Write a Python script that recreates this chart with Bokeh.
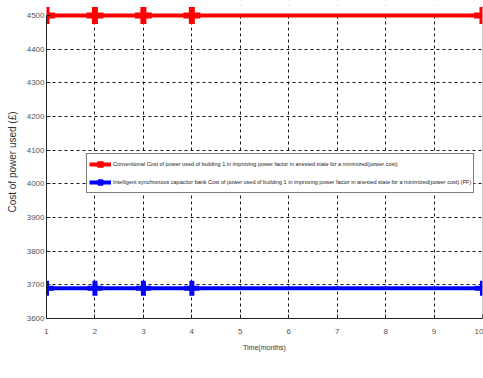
from bokeh.plotting import figure
from bokeh.models import FixedTicker, Range1d, BoxAnnotation, Span, Legend, LegendItem
from bokeh.embed import file_html
from bokeh.resources import INLINE

months = [1, 2, 3, 4, 10]
conventional_cost = [4500, 4500, 4500, 4500, 4500]
intelligent_cost = [3690, 3690, 3690, 3690, 3690]
x_ticks = [1, 2, 3, 4, 5, 6, 7, 8, 9, 10]
y_ticks = [3600, 3700, 3800, 3900, 4000, 4100, 4200, 4300, 4400, 4500]
label_conv = "Conventional Cost of power used of building 1 in improving power factor in anested state for a minimized(power cost)"
label_intel = "Intelligent synchronous capacitor bank Cost of power used of building 1 in improving power factor in anested state for a minimized(power cost) (PF)"

FONT = "Liberation Sans"

p = figure(width=483, height=370, output_backend="svg", toolbar_location=None,
           x_range=Range1d(1, 10), y_range=Range1d(3600, 4530),
           min_border_left=46, min_border_right=1, min_border_top=5, min_border_bottom=52)
p.outline_line_color = None
p.background_fill_color = "white"

for g in (p.xgrid, p.ygrid):
    g.grid_line_color = "black"
    g.grid_line_dash = "3 3"
    g.grid_line_width = 1
    g.grid_line_alpha = 0.9
p.xgrid.ticker = FixedTicker(ticks=x_ticks)
p.ygrid.ticker = FixedTicker(ticks=y_ticks)

cover = BoxAnnotation(bottom=4500, fill_color="white", fill_alpha=1, line_color=None, level="underlay")
p.add_layout(cover)
edge = Span(location=10, dimension="height", line_color="#999999", line_width=1)
p.add_layout(edge)

p.xaxis.ticker = FixedTicker(ticks=x_ticks)
p.yaxis.ticker = FixedTicker(ticks=y_ticks)
p.yaxis.bounds = (3600, 4500)
for ax in (p.xaxis[0], p.yaxis[0]):
    ax.axis_line_color = "#222222"
    ax.major_tick_line_color = "#222222"
    ax.major_tick_in = 4
    ax.major_tick_out = 0
    ax.minor_tick_line_color = None
    ax.major_label_text_font = FONT
    ax.major_label_text_font_size = "8px"
    ax.major_label_text_color = "#555555"
    ax.axis_label_text_font = FONT
    ax.axis_label_text_font_style = "normal"
    ax.axis_label_text_color = "#333333"
p.xaxis.axis_label = "Time(months)"
p.yaxis.axis_label = "Cost of power used (£)"
p.xaxis.axis_label_text_font_size = "7px"
p.yaxis.axis_label_text_font_size = "10px"
p.xaxis.major_label_standoff = 10
p.yaxis.major_label_standoff = 2
p.xaxis.axis_label_standoff = 7
p.yaxis.axis_label_standoff = 6

r1 = p.line(months, conventional_cost, line_color="red", line_width=4)
m1 = p.scatter(months, conventional_cost, marker="cross", size=17, line_color="red", line_width=6)
r2 = p.line(months, intelligent_cost, line_color="blue", line_width=4)
m2 = p.scatter(months, intelligent_cost, marker="cross", size=15, line_color="blue", line_width=5)

legend = Legend(items=[LegendItem(label=label_conv, renderers=[r1, m1]),
                       LegendItem(label=label_intel, renderers=[r2, m2])],
                location=(40, 125))
legend.label_text_font = FONT
legend.label_text_font_size = "5.5px"
legend.label_text_color = "#222222"
legend.border_line_color = "black"
legend.border_line_width = 1
legend.background_fill_alpha = 1
legend.padding = 2
legend.spacing = 2
legend.margin = 0
legend.glyph_width = 22
legend.glyph_height = 16
legend.label_standoff = 2
legend.label_height = 16
p.add_layout(legend, "center")

open("out.html", "w").write(file_html(p, INLINE))
